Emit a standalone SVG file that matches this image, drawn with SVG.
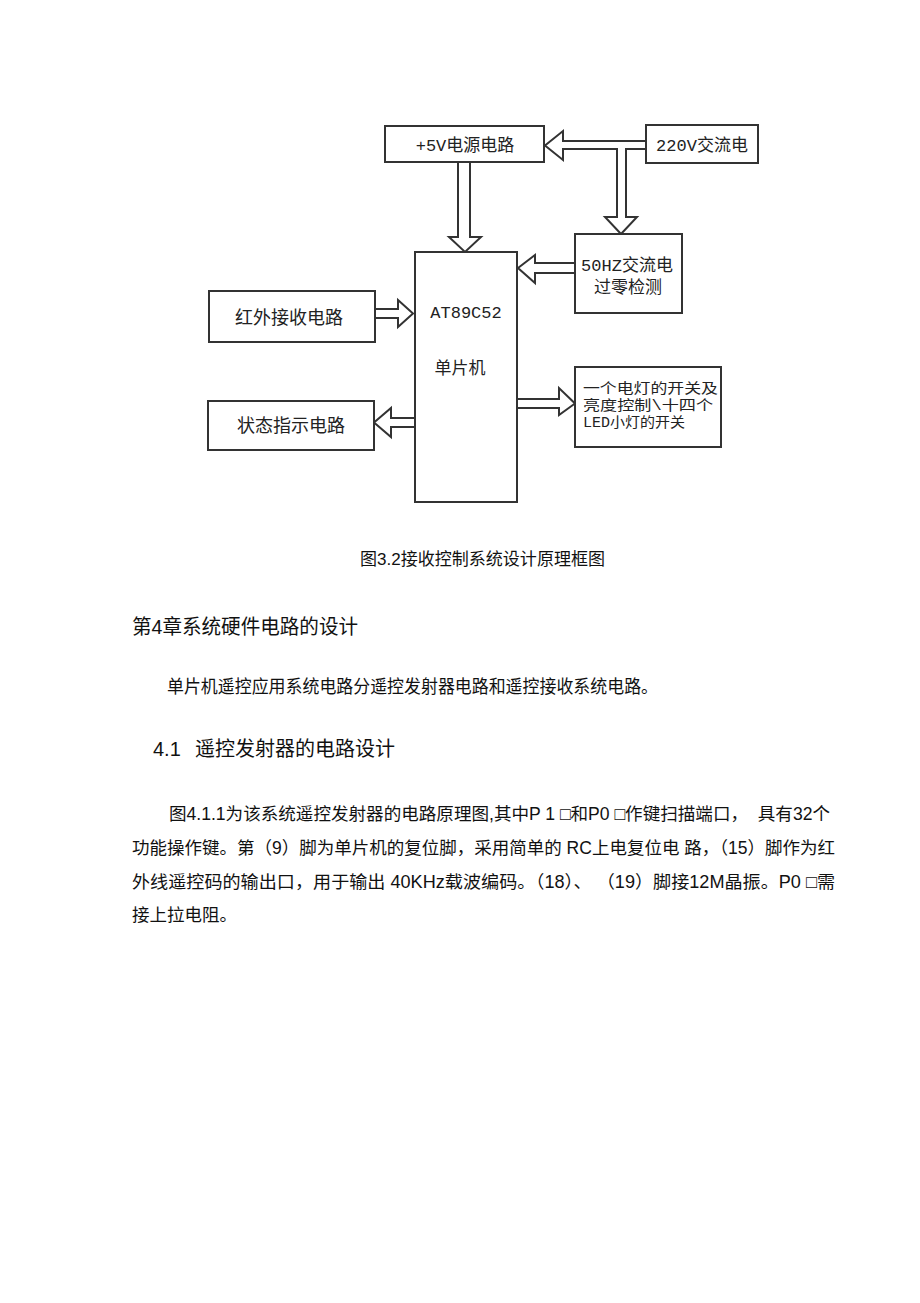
<svg xmlns="http://www.w3.org/2000/svg" width="920" height="1303" viewBox="0 0 920 1303">
<style>
.box{fill:#fff;stroke:#333;stroke-width:2}
.arr{fill:#fff;stroke:#333;stroke-width:2;stroke-linejoin:miter}
.lbl{font-family:"Liberation Mono","Noto Sans CJK SC",monospace;font-size:17px;fill:#222;text-anchor:middle}
.led{font-family:"Liberation Mono","Noto Sans CJK SC",monospace;font-size:14px;fill:#222}
.body{font-family:"Liberation Sans","Noto Sans CJK SC",sans-serif;fill:#111;white-space:pre}
</style>
<rect width="920" height="1303" fill="#fff"/>
<g id="connectors">
<path class="arr" d="M646,141 L563,141 L563,131 L545,145.5 L563,160 L563,149 L617,149 L617,217 L605,217 L621,234 L637,217 L626,217 L626,149 L646,149"/>
<path class="arr" d="M458,162 L458,237 L449,237 L465,252 L481,237 L470,237 L470,162"/>
<path class="arr" d="M575,263 L535,263 L535,255 L518,268 L535,283 L535,273 L575,273"/>
<path class="arr" d="M375,309 L398,309 L398,300 L413,313.5 L398,327 L398,318 L375,318"/>
<path class="arr" d="M415,418 L391,418 L391,408 L374,422.5 L391,437 L391,427 L415,427"/>
<path class="arr" d="M517,399 L559,399 L559,388 L575,403.5 L559,415 L559,408 L517,408"/>
</g>
<g id="node-5v">
<rect class="box" x="385" y="126" width="159" height="36"/>
<text class="lbl" x="465" y="151">+5V电源电路</text>
</g>
<g id="node-220v">
<rect class="box" x="646" y="125" width="112" height="38"/>
<text class="lbl" x="702" y="151">220V交流电</text>
</g>
<g id="node-mcu">
<rect class="box" x="415" y="252" width="102" height="250"/>
<text class="lbl" x="466" y="318">AT89C52</text>
<text class="lbl" x="460" y="374">单片机</text>
</g>
<g id="node-zero">
<rect class="box" x="575" y="234" width="107" height="79"/>
<text class="lbl" x="627" y="271">50HZ交流电</text>
<text class="lbl" x="628" y="293">过零检测</text>
</g>
<g id="node-ir">
<rect class="box" x="209" y="291" width="166" height="51"/>
<text class="lbl" x="289" y="324" style="font-size:18px">红外接收电路</text>
</g>
<g id="node-status">
<rect class="box" x="208" y="401" width="166" height="49"/>
<text class="lbl" x="291" y="432" style="font-size:18px">状态指示电路</text>
</g>
<g id="node-led">
<rect class="box" x="575" y="367" width="146" height="80"/>
<text class="led" x="583" y="393" textLength="135" lengthAdjust="spacingAndGlyphs">一个电灯的开关及</text>
<text class="led" x="583" y="410" textLength="130" lengthAdjust="spacingAndGlyphs">亮度控制\十四个</text>
<text class="led" x="583" y="427" textLength="102" lengthAdjust="spacingAndGlyphs">LED小灯的开关</text>
</g>
<g id="page-text">
<text class="body" x="360" y="564.5" style="font-size:17px" textLength="245" lengthAdjust="spacingAndGlyphs">图3.2接收控制系统设计原理框图</text>
<text class="body" x="132" y="633.5" style="font-size:20px" textLength="226" lengthAdjust="spacingAndGlyphs">第4章系统硬件电路的设计</text>
<text class="body" x="167" y="693" style="font-size:18px" textLength="491" lengthAdjust="spacingAndGlyphs">单片机遥控应用系统电路分遥控发射器电路和遥控接收系统电路。</text>
<text class="body" x="153" y="755.5" style="font-size:20px">4.1</text>
<text class="body" x="195" y="755.5" style="font-size:20px" textLength="200" lengthAdjust="spacingAndGlyphs">遥控发射器的电路设计</text>
<text class="body" x="169" y="820" style="font-size:17.5px" textLength="661" lengthAdjust="spacingAndGlyphs">图4.1.1为该系统遥控发射器的电路原理图,其中P 1 □和P0 □作键扫描端口，  具有32个</text>
<text class="body" x="132" y="854" style="font-size:17.5px" textLength="703" lengthAdjust="spacingAndGlyphs">功能操作键。第（9）脚为单片机的复位脚，采用简单的 RC上电复位电 路，（15）脚作为红</text>
<text class="body" x="132" y="888" style="font-size:17.5px" textLength="703" lengthAdjust="spacingAndGlyphs">外线遥控码的输出口，用于输出 40KHz载波编码。（18）、 （19）脚接12M晶振。P0 □需</text>
<text class="body" x="132" y="921" style="font-size:17.5px">接上拉电阻。</text>
</g>
</svg>
